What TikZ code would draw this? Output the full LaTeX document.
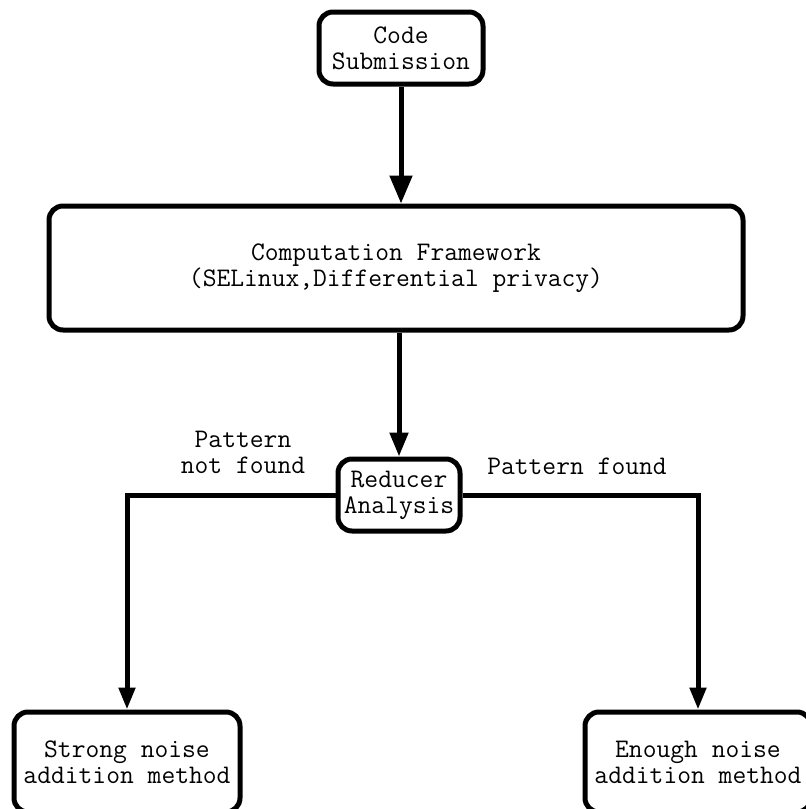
\documentclass[tikz,border=0pt]{standalone}
\usepackage{fontspec}
\usepackage{tikz}
\usetikzlibrary{positioning, arrows.meta}

\tikzset{
    stepbox/.style={draw, line width=2.5pt, rounded corners=7pt, align=center,
        inner sep=0pt, font=\ttfamily\fontsize{13.4}{13}\selectfont},
    flow/.style={line width=2.5pt, -{Triangle[length=11pt, width=8pt]}},
    lbl/.style={align=center, font=\ttfamily\fontsize{13.4}{13}\selectfont}
}

\begin{document}
\begin{tikzpicture}[x=0.5pt, y=-0.5pt]
    \useasboundingbox (0, 0) rectangle (806, 809);
    \clip (0, 0) rectangle (806, 809);

    \node[stepbox, minimum width=82pt, minimum height=36pt] (code) at (401, 48) {Code\\Submission};
    \node[stepbox, minimum width=347pt, minimum height=62pt] (frame) at (396, 268) {Computation Framework\\(SELinux,Differential privacy)};
    \node[stepbox, minimum width=61pt, minimum height=36pt] (reducer) at (399, 495) {Reducer\\Analysis};
    \node[stepbox, minimum width=113pt, minimum height=50pt] (strong) at (127, 762) {Strong noise\\addition method};
    \node[stepbox, minimum width=113pt, minimum height=50pt] (enough) at (698, 762) {Enough noise\\addition method};

    \node[lbl] (notfound) at (243, 452) {Pattern\\not found};
    \node[lbl] (found) at (577, 466) {Pattern found};

    \draw[flow, -{Triangle[length=14pt, width=11pt]}] (code) -- (code |- frame.north);
    \draw[flow, -{Triangle[length=12pt, width=9pt]}] (frame.south -| reducer) -- (reducer);
    \draw[flow] (reducer.west) -| (strong.north);
    \draw[flow] (reducer.east) -| (enough.north);
\end{tikzpicture}
\end{document}
